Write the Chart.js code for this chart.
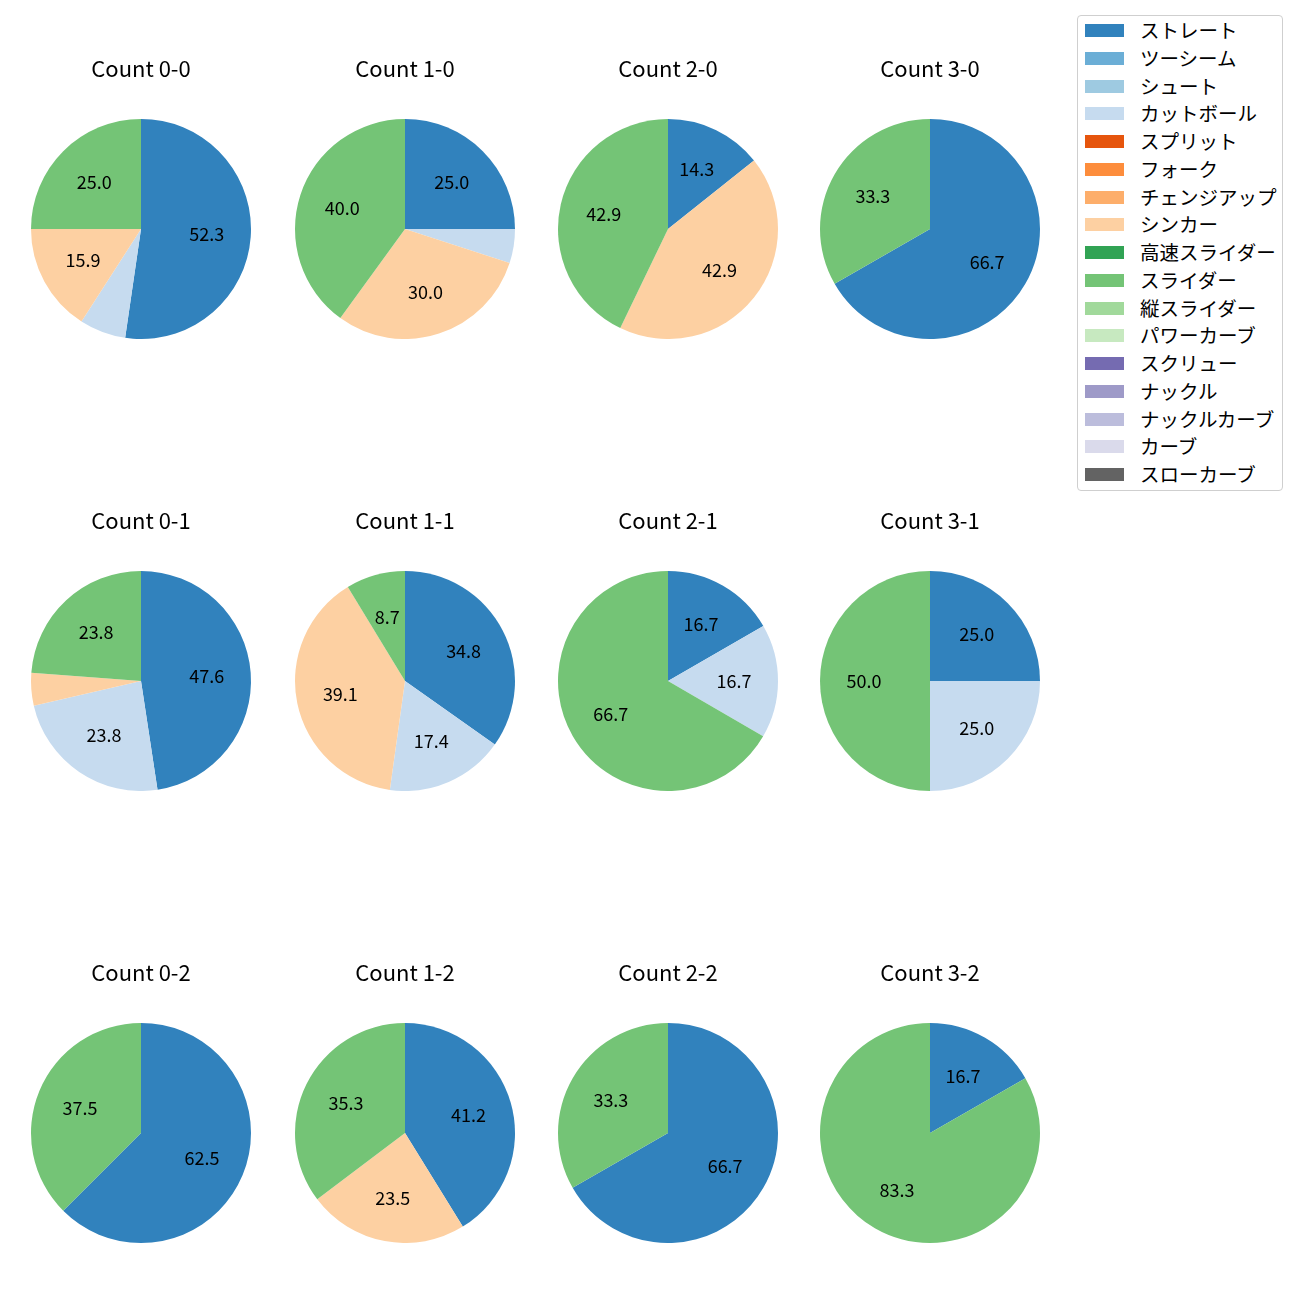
<!DOCTYPE html>
<html>
<head>
<meta charset="utf-8">
<script src="https://cdn.jsdelivr.net/npm/chart.js@4.4.1/dist/chart.umd.min.js"></script>
<style>
  body { margin: 0; background: #fff; font-family: 'Noto Sans CJK JP', sans-serif; }
  #wrap { position: relative; width: 1300px; height: 1300px; }
  .cell { position: absolute; width: 240px; height: 300px; }
  #legend { position: absolute; left: 1077px; top: 15px; width: 204px; height: 474px;
            border: 1px solid #cfcfcf; border-radius: 4px; }
  .item { position: absolute; left: 0; height: 20px; font-size: 19.5px; color: #000; white-space: nowrap; line-height: 20px; }
  .item span.patch { position: absolute; left: 7px; top: 1px; width: 39px; height: 13px; }
  .item span.label { position: absolute; left: 62px; top: -3px; }
</style>
</head>
<body>
<div id="wrap">
  <div id="legend"></div>
</div>
<script>
const pitchTypes = ['ストレート', 'ツーシーム', 'シュート', 'カットボール', 'スプリット', 'フォーク',
  'チェンジアップ', 'シンカー', '高速スライダー', 'スライダー', '縦スライダー', 'パワーカーブ',
  'スクリュー', 'ナックル', 'ナックルカーブ', 'カーブ', 'スローカーブ'];
const pitchColors = ['#3182bd', '#6baed6', '#9ecae1', '#c6dbef', '#e6550d', '#fd8d3c',
  '#fdae6b', '#fdd0a2', '#31a354', '#74c476', '#a1d99b', '#c7e9c0',
  '#756bb1', '#9e9ac8', '#bcbddc', '#dadaeb', '#636363'];

const counts = ['0-0', '1-0', '2-0', '3-0', '0-1', '1-1', '2-1', '3-1', '0-2', '1-2', '2-2', '3-2'];

// share (%) per count, one array per pitch type that appears
const straight = [52.3, 25.0, 14.3, 66.7, 47.6, 34.8, 16.7, 25.0, 62.5, 41.2, 66.7, 16.7];
const cutter   = [6.8, 5.0, 0, 0, 23.8, 17.4, 16.7, 25.0, 0, 0, 0, 0];
const sinker   = [15.9, 30.0, 42.9, 0, 4.8, 39.1, 0, 0, 0, 23.5, 0, 0];
const slider   = [25.0, 40.0, 42.9, 33.3, 23.8, 8.7, 66.7, 50.0, 37.5, 35.3, 33.3, 83.3];

const colCenters = [141, 405, 668, 930];
const titleRows = [69, 521, 973];

// legend
const legend = document.getElementById('legend');
pitchTypes.forEach((name, i) => {
  const row = document.createElement('div');
  row.className = 'item';
  row.style.top = (7 + i * 27.75) + 'px';
  row.innerHTML = `<span class="patch" style="background:${pitchColors[i]}"></span><span class="label">${name}</span>`;
  legend.appendChild(row);
});

// value labels at 0.6 of the radius, small slices left blank
const pctLabels = {
  id: 'pctLabels',
  afterDatasetsDraw(chart) {
    const ctx = chart.ctx;
    const data = chart.data.datasets[0].data;
    const meta = chart.getDatasetMeta(0);
    ctx.save();
    ctx.font = '18px "Noto Sans CJK JP"';
    ctx.fillStyle = '#000';
    ctx.textAlign = 'center';
    ctx.textBaseline = 'middle';
    meta.data.forEach((arc, i) => {
      if (data[i] < 7.5) return;
      const p = arc.getProps(['x', 'y', 'startAngle', 'endAngle', 'outerRadius'], true);
      const a = (p.startAngle + p.endAngle) / 2;
      ctx.fillText(data[i].toFixed(1), p.x + Math.cos(a) * p.outerRadius * 0.6, p.y + Math.sin(a) * p.outerRadius * 0.6);
    });
    ctx.restore();
  }
};

const wrap = document.getElementById('wrap');
counts.forEach((c, k) => {
  const values = pitchTypes.map(() => 0);
  values[0] = straight[k];
  values[3] = cutter[k];
  values[7] = sinker[k];
  values[9] = slider[k];

  const fontSize = 22;
  const padTop = 30 - fontSize * 0.6;
  const cell = document.createElement('div');
  cell.className = 'cell';
  cell.style.left = (colCenters[k % 4] - 120) + 'px';
  cell.style.top = (titleRows[Math.floor(k / 4)] - 30) + 'px';
  const canvas = document.createElement('canvas');
  canvas.width = 240;
  canvas.height = 300;
  cell.appendChild(canvas);
  wrap.appendChild(cell);

  new Chart(canvas, {
    type: 'pie',
    data: {
      labels: pitchTypes,
      datasets: [{
        data: values,
        backgroundColor: pitchColors,
        borderWidth: 0,
        hoverOffset: 0,
        offset: 0
      }]
    },
    options: {
      responsive: false,
      animation: false,
      events: [],
      layout: { padding: 0 },
      plugins: {
        legend: { display: false },
        tooltip: { enabled: false },
        title: {
          display: true,
          text: 'Count ' + c,
          color: '#000',
          font: { family: 'Noto Sans CJK JP', size: fontSize, weight: 'normal', lineHeight: 1.2 },
          padding: { top: padTop, bottom: 80 - padTop - fontSize * 1.2 }
        }
      }
    },
    plugins: [pctLabels]
  });
});
</script>
</body>
</html>
